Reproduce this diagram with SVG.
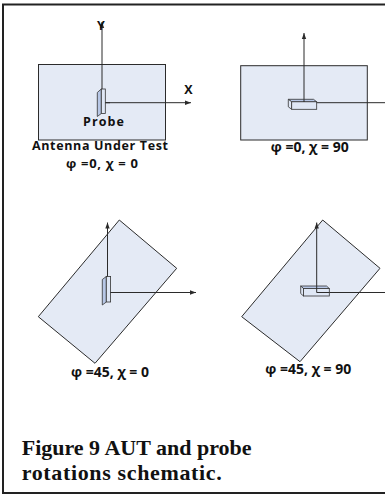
<svg xmlns="http://www.w3.org/2000/svg" width="385" height="496" viewBox="0 0 385 496">
<style>
.aut{fill:#e4eaf5;stroke:#2b2b2b;stroke-width:1}
.ax{stroke:#2b2b2b;stroke-width:1;fill:none}
.side{fill:#b7c7e6;stroke:#333;stroke-width:0.8}
.front{fill:#dfe7f5;stroke:#333;stroke-width:0.8}
.lbl{font-family:"Open Sans","Liberation Sans",Arial,sans-serif;font-weight:bold;font-size:12.5px;fill:#111;text-anchor:middle}
.ang{font-size:14px}
.cap{font-family:"Liberation Serif","Times New Roman",serif;font-weight:bold;font-size:22px;fill:#111}
</style>
<defs>
<marker id="arr" viewBox="0 0 6 6" refX="6" refY="3" markerWidth="6" markerHeight="6" markerUnits="userSpaceOnUse" orient="auto">
<path d="M0,0.8 L6,3 L0,5.2 Z" fill="#2b2b2b"/>
</marker>
</defs>
<rect width="385" height="496" fill="#fff"/>
<path d="M386,4.5 H3 V493 H386" fill="none" stroke="#222" stroke-width="2"/>

<g id="panel1">
<rect class="aut" x="38.5" y="64.5" width="127" height="75.5"/>
<g class="connectors">
<line class="ax" x1="102" y1="102.7" x2="102" y2="22" marker-end="url(#arr)"/>
<line class="ax" x1="102" y1="102.7" x2="191" y2="102.7" marker-end="url(#arr)"/>
</g>
<polygon class="side" points="101.3,89 97.3,92.5 97.3,116.5 101.3,113.5"/>
<rect class="front" x="101.3" y="89" width="4" height="24.5"/>
<line class="ax" x1="105.3" y1="102.7" x2="110" y2="102.7"/>
<text class="lbl" x="100.8" y="29.5">Y</text>
<text class="lbl" x="188.5" y="94">X</text>
<text class="lbl" x="103.5" y="126" textLength="41">Probe</text>
<text class="lbl" x="100" y="149.5" textLength="136">Antenna Under Test</text>
<text class="lbl" x="102" y="167.5" style="font-size:13px" textLength="72">φ =0, χ = 0</text>
</g>

<g id="panel2">
<rect class="aut" x="240.7" y="65.7" width="126.6" height="74.3"/>
<g class="connectors">
<line class="ax" x1="304" y1="102.5" x2="304" y2="33" marker-end="url(#arr)"/>
<line class="ax" x1="304" y1="102.7" x2="386" y2="102.7"/>
</g>
<polygon class="side" points="288.3,99.3 313.5,99.3 316.7,101.8 291.7,101.8"/>
<polygon class="front" points="288.3,99.3 291.7,101.8 291.7,109.3 288.3,106.8"/>
<rect class="front" x="291.7" y="101.8" width="25" height="7.5"/>
<line class="ax" x1="304" y1="99.3" x2="304" y2="102"/>
<text class="lbl ang" x="309.7" y="152">φ =0, χ = 90</text>
</g>

<g id="panel3">
<polygon class="aut" points="119.3,220 176.7,268.3 95,363.3 38.3,316.7"/>
<g class="connectors">
<line class="ax" x1="107.5" y1="292.5" x2="107.5" y2="222.5" marker-end="url(#arr)"/>
<line class="ax" x1="107.5" y1="292.5" x2="196" y2="292.5" marker-end="url(#arr)"/>
</g>
<polygon class="side" points="106.3,276.5 102.3,279.5 102.3,305 106.3,302"/>
<rect class="front" x="106.3" y="276.5" width="4.3" height="25.5"/>
<line class="ax" x1="110.6" y1="292.5" x2="115" y2="292.5"/>
<text class="lbl ang" x="110" y="376.5">φ =45, χ = 0</text>
</g>

<g id="panel4">
<polygon class="aut" points="322.7,220 380,268.3 300,361.7 241.7,316.7"/>
<g class="connectors">
<line class="ax" x1="316.7" y1="292.5" x2="316.7" y2="222.5" marker-end="url(#arr)"/>
<line class="ax" x1="316.7" y1="292.5" x2="386" y2="292.5"/>
</g>
<polygon class="side" points="300.7,286 326.5,286 329.3,288.5 303.5,288.5"/>
<polygon class="front" points="300.7,286 303.5,288.5 303.5,296 300.7,293.5"/>
<rect class="front" x="303.5" y="288.5" width="25.8" height="7.5"/>
<line class="ax" x1="316.7" y1="286" x2="316.7" y2="292.5"/>
<line class="ax" x1="316.7" y1="292.5" x2="329.3" y2="292.5"/>
<text class="lbl ang" x="308.3" y="374">φ =45, χ = 90</text>
</g>

<g id="caption">
<text class="cap" x="21.7" y="455">Figure 9 AUT and probe</text>
<text class="cap" x="21.7" y="480" textLength="200">rotations schematic.</text>
</g>
</svg>
